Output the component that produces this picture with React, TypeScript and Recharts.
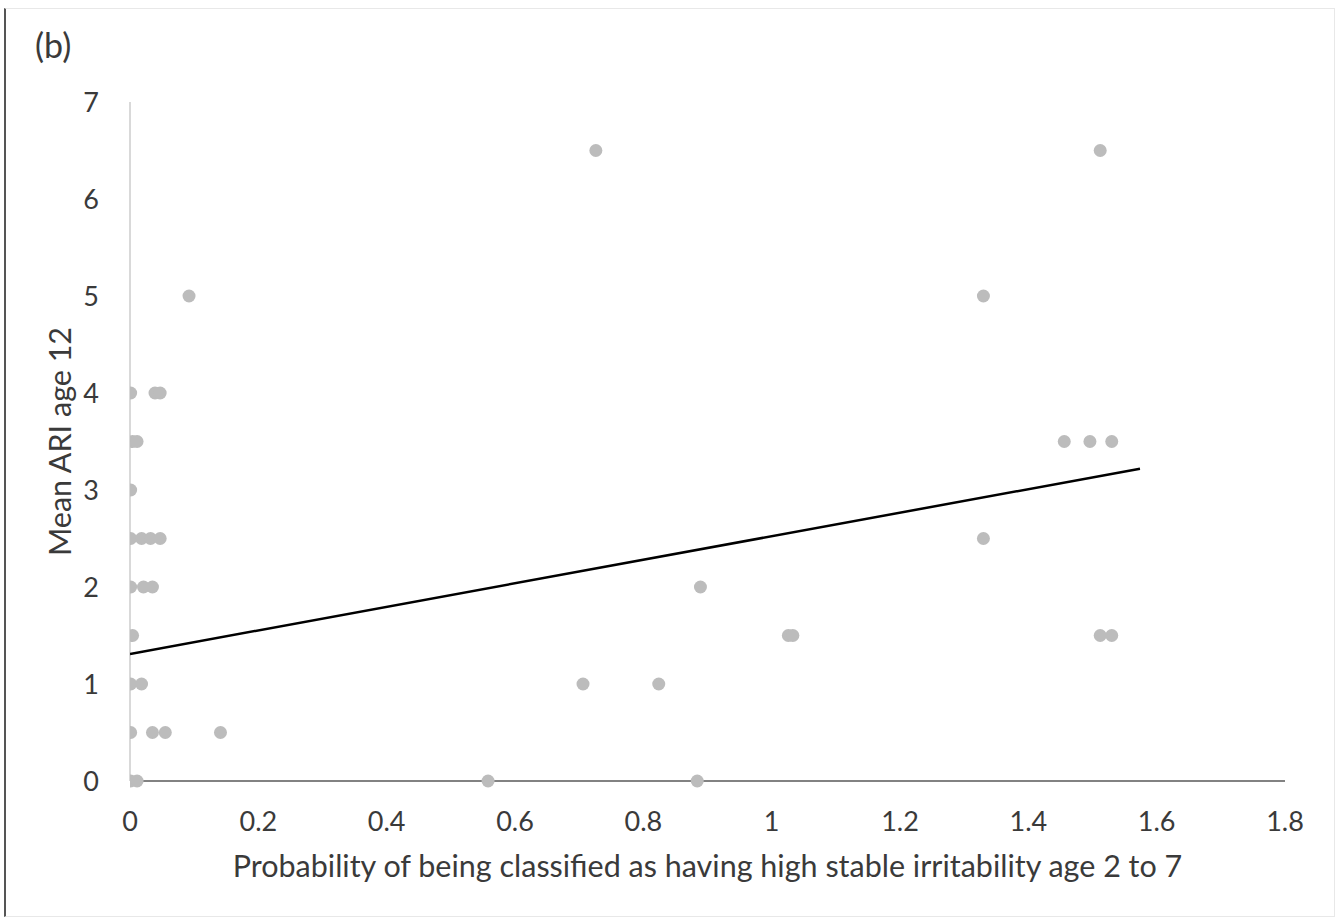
import React from 'react';
import { ScatterChart, Scatter, XAxis, YAxis, ZAxis } from 'recharts';

const pointX = [
  0.001, 0.011, 0.558, 0.884,
  0.001, 0.035, 0.055, 0.141,
  0.001, 0.018, 0.706, 0.824,
  0.004, 1.026, 1.033, 1.512, 1.530,
  0.001, 0.021, 0.035, 0.889,
  0.001, 0.018, 0.032, 0.047, 1.330,
  0.001,
  0.004, 0.011, 1.456, 1.496, 1.530,
  0.001, 0.039, 0.047,
  0.092, 1.330,
  0.726, 1.512,
];
const pointY = [
  0, 0, 0, 0,
  0.5, 0.5, 0.5, 0.5,
  1, 1, 1, 1,
  1.5, 1.5, 1.5, 1.5, 1.5,
  2, 2, 2, 2,
  2.5, 2.5, 2.5, 2.5, 2.5,
  3,
  3.5, 3.5, 3.5, 3.5, 3.5,
  4, 4, 4,
  5, 5,
  6.5, 6.5,
];
const trendX = [0, 1.574];
const trendY = [1.31, 3.22];
const xTicks = [0, 0.2, 0.4, 0.6, 0.8, 1, 1.2, 1.4, 1.6, 1.8];
const yTicks = [0, 1, 2, 3, 4, 5, 6, 7];

const points = pointX.map((x, i) => ({ x, y: pointY[i] }));
const trend = trendX.map((x, i) => ({ x, y: trendY[i] }));

const FONT = 'Lato, "Open Sans", sans-serif';
const TEXT = '#3a3a3a';

const Dot = (props: any) => {
  const { cx, cy } = props;
  return <circle cx={cx} cy={cy} r={6.5} fill="#bcbcbc" />;
};

export default function App() {
  return (
    <div style={{ position: 'absolute', left: 0, top: 0, width: 1340, height: 917, background: '#fff', fontFamily: FONT }}>
      <div
        style={{
          position: 'absolute',
          left: 4,
          top: 8,
          width: 1328,
          height: 907,
          borderLeft: '2px solid #555',
          borderTop: '1px solid #e8e8e8',
          borderRight: '1px solid #e8e8e8',
          borderBottom: '1px solid #e8e8e8',
        }}
      />
      <div style={{ position: 'absolute', left: 35, top: 24, fontSize: 34, color: TEXT, fontFamily: FONT }}>(b)</div>
      <div style={{ position: 'absolute', left: 0, top: 0 }}>
        <ScatterChart width={1340} height={917} margin={{ top: 102, right: 55, bottom: 36, left: 70 }}>
          <XAxis
            type="number"
            dataKey="x"
            domain={[0, 1.8]}
            ticks={xTicks}
            tickLine={false}
            tickSize={6}
            tickMargin={25}
            height={100}
            axisLine={{ stroke: '#595959', strokeWidth: 1.5 }}
            tick={{ fill: TEXT, fontSize: 27, fontFamily: FONT }}
            allowDataOverflow
            label={{
              value: 'Probability of being classified as having high stable irritability age 2 to 7',
              position: 'insideBottom',
              offset: 4,
              fill: TEXT,
              fontSize: 30.5,
              fontFamily: FONT,
            }}
          />
          <YAxis
            type="number"
            dataKey="y"
            domain={[0, 7]}
            ticks={yTicks}
            tickLine={false}
            tickSize={6}
            tickMargin={25}
            width={60}
            axisLine={{ stroke: '#d9d9d9', strokeWidth: 2 }}
            tick={{ fill: TEXT, fontSize: 27, fontFamily: FONT }}
            label={{
              value: 'Mean ARI age 12',
              angle: -90,
              position: 'center',
              dx: -40,
              fill: TEXT,
              fontSize: 30.5,
              fontFamily: FONT,
            }}
          />
          <ZAxis range={[130, 130]} />
          <Scatter data={points} shape={<Dot />} isAnimationActive={false} />
          <Scatter
            data={trend}
            line={{ stroke: '#000', strokeWidth: 2.5 }}
            shape={() => null}
            isAnimationActive={false}
          />
        </ScatterChart>
      </div>
    </div>
  );
}
